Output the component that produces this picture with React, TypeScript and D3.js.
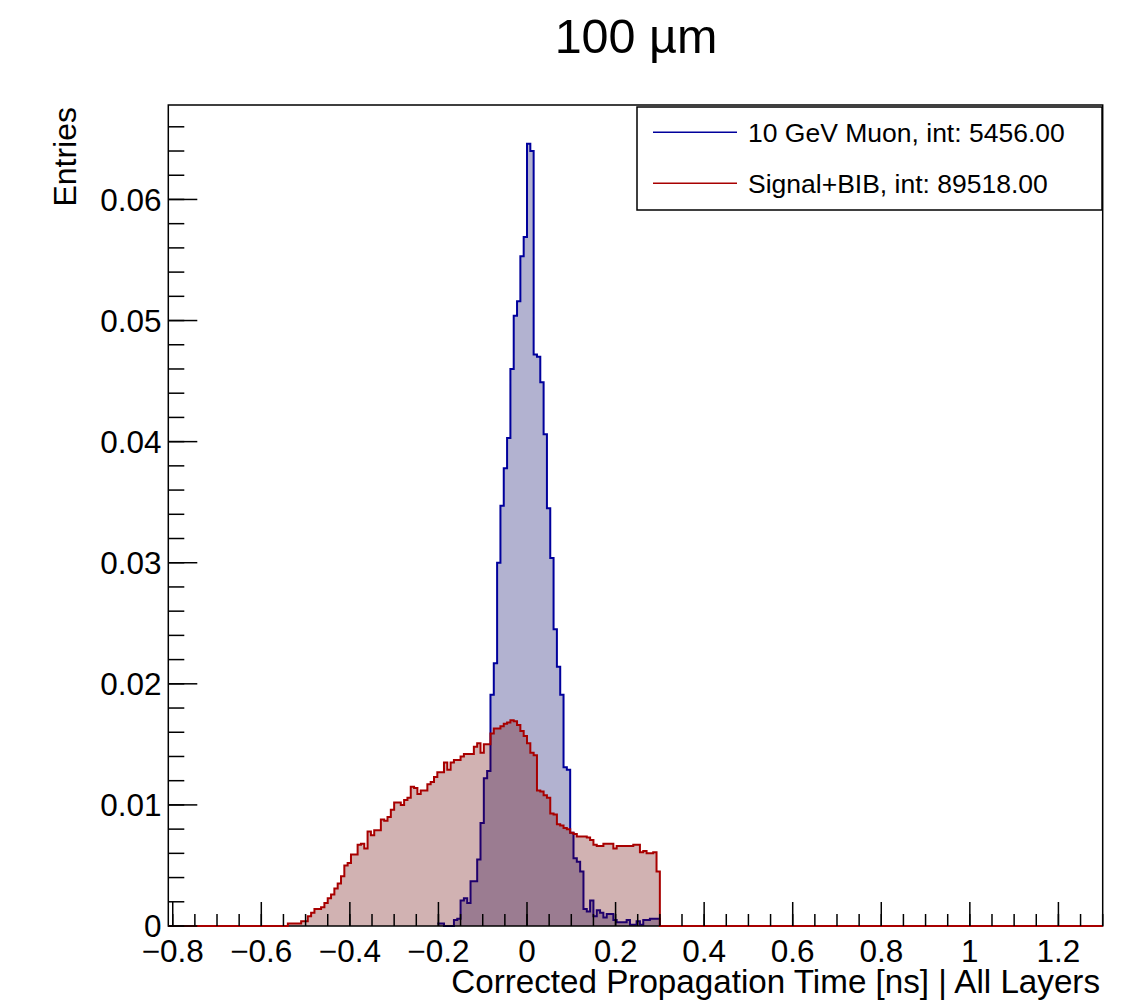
import React from "react";
import * as d3 from "d3";

const title = "100 µm";
const xTitle = "Corrected Propagation Time [ns] | All Layers";
const yTitle = "Entries";
const legendLabels = ["10 GeV Muon, int: 5456.00", "Signal+BIB, int: 89518.00"];

const binWidth = 0.0075;
const muonStart = -0.2025;
const muonValues = [
  0.0002, 0.0002, 0, 0, 0, 0.0005, 0.0006, 0.0021, 0.0023, 0.0019,
  0.0037, 0.0037, 0.0055, 0.0085, 0.0122, 0.0128, 0.0191, 0.0217, 0.03, 0.0347,
  0.0378, 0.0403, 0.046, 0.0504, 0.0516, 0.0553, 0.0569, 0.0646, 0.064, 0.0472,
  0.047, 0.0449, 0.0406, 0.0345, 0.0304, 0.0245, 0.0214, 0.0191, 0.0131, 0.0129,
  0.0077, 0.0056, 0.0053, 0.0045, 0.0014, 0.0012, 0.0021, 0.0008, 0.0013, 0.0011,
  0.0007, 0.001, 0.001, 0.0005, 0.0003, 0.0003, 0.0003, 0.0005, 0.0001, 0.0001,
  0.0004, 0.0001, 0.0005, 0.0005, 0.0006, 0.0006, 0.0006,
];
const signalStart = -0.54;
const signalValues = [
  0.0002, 0.0002, 0.0002, 0.0002, 0.0004, 0.0004, 0.0008, 0.0011, 0.0014, 0.0014,
  0.00155, 0.0019, 0.0023, 0.0026, 0.0031, 0.0035, 0.0041, 0.005, 0.0052, 0.0059,
  0.0059, 0.0067, 0.0068, 0.0064, 0.0078, 0.0075, 0.0079, 0.0079, 0.0088, 0.0087,
  0.009, 0.0096, 0.0102, 0.0102, 0.01, 0.0104, 0.0106, 0.0115, 0.0114, 0.0109,
  0.0112, 0.0112, 0.0117, 0.0119, 0.0123, 0.0127, 0.0127, 0.0135, 0.0129, 0.0135,
  0.0137, 0.0137, 0.014, 0.0142, 0.0142, 0.0142, 0.0148, 0.0151, 0.0143, 0.015,
  0.015, 0.0159, 0.0163, 0.0163, 0.0165, 0.0167, 0.0168, 0.017, 0.0169, 0.0166,
  0.0161, 0.0157, 0.0151, 0.0143, 0.0141, 0.0112, 0.0111, 0.0108, 0.0106, 0.0093,
  0.0092, 0.0084, 0.0083, 0.0081, 0.008, 0.0077, 0.0076, 0.0074, 0.0074, 0.0074,
  0.0073, 0.0071, 0.0067, 0.0066, 0.0066, 0.0068, 0.0068, 0.0068, 0.0064, 0.0066,
  0.0066, 0.0066, 0.0066, 0.0066, 0.0067, 0.0067, 0.0061, 0.0062, 0.006, 0.006,
  0.0061, 0.0045,
];

const xDomain = [-0.81, 1.3];
const yDomain = [0, 0.0678];
const xMajorTicks = [-0.8, -0.6, -0.4, -0.2, 0, 0.2, 0.4, 0.6, 0.8, 1, 1.2];
const yMajorTicks = [0, 0.01, 0.02, 0.03, 0.04, 0.05, 0.06];
const xMinorStep = 0.05;
const yMinorStep = 0.002;

const FONT = "'Liberation Sans', Arial, Helvetica, sans-serif";
const L = 168.3, R = 1102.7, T = 105, B = 926;

function fmt(v: number) {
  const s = String(Math.round(v * 1000) / 1000);
  return s.replace("-", "\u2212");
}

export default function App() {
  const x = d3.scaleLinear().domain(xDomain).range([L, R]);
  const y = d3.scaleLinear().domain(yDomain).range([B, T]);

  const pts = (start: number, vals: number[], full: boolean) => {
    const p: [number, number][] = [];
    if (full) p.push([xDomain[0], 0]);
    vals.forEach((v, i) => p.push([start + i * binWidth, v]));
    p.push([start + vals.length * binWidth, 0]);
    if (full) p.push([xDomain[1], 0]);
    else p.push([start + vals.length * binWidth, 0]);
    return p;
  };
  const line = d3.line<[number, number]>().x((d) => x(d[0])).y((d) => y(d[1])).curve(d3.curveStepAfter);
  const area = d3
    .area<[number, number]>()
    .x((d) => x(d[0]))
    .y0(y(0))
    .y1((d) => y(d[1]))
    .curve(d3.curveStepAfter);

  const muonPts = pts(muonStart, muonValues, false);
  const sigPts = pts(signalStart, signalValues, true);

  const xMinor: number[] = [];
  for (let v = -0.8; v <= 1.3 + 1e-9; v += xMinorStep) xMinor.push(Math.round(v * 1000) / 1000);
  const yMinor: number[] = [];
  for (let v = 0; v <= yDomain[1] + 1e-9; v += yMinorStep) yMinor.push(Math.round(v * 10000) / 10000);

  const blueLine = "#00009c";
  const redLine = "#a80000";

  return (
    <svg
      width={1123}
      height={1003}
      style={{ display: "block", background: "#fff", position: "absolute", left: 0, top: 0 }}
      fontFamily={FONT}
    >
      <rect x={0} y={0} width={1123} height={1003} fill="#fff" />
      <text x={636} y={52.7} fontSize={48.5} textAnchor="middle" fill="#000">
        {title}
      </text>

      {/* histograms */}
      <path d={area(muonPts) || ""} fill="rgb(0,0,100)" fillOpacity={0.3} />
      <path d={line(muonPts) || ""} fill="none" stroke={blueLine} strokeWidth={2} />
      <path d={area(sigPts) || ""} fill="rgb(102,0,0)" fillOpacity={0.3} />

      {/* frame */}
      <rect x={L} y={T} width={R - L} height={B - T} fill="none" stroke="#000" strokeWidth={1.5} />

      <path d={line(sigPts) || ""} fill="none" stroke={redLine} strokeWidth={2} />

      {/* y ticks */}
      {yMinor.map((v) => (
        <line key={"ym" + v} x1={L} x2={L + 16} y1={y(v)} y2={y(v)} stroke="#000" strokeWidth={1.5} />
      ))}
      {yMajorTicks.map((v) => (
        <g key={"yM" + v}>
          <line x1={L} x2={L + 29} y1={y(v)} y2={y(v)} stroke="#000" strokeWidth={1.5} />
          <text x={161.5} y={y(v)} dy="0.36em" fontSize={31.5} textAnchor="end" fill="#000">
            {fmt(v)}
          </text>
        </g>
      ))}

      {/* x ticks */}
      {xMinor.map((v) => (
        <line key={"xm" + v} x1={x(v)} x2={x(v)} y1={B} y2={B - 12} stroke="#000" strokeWidth={1.5} />
      ))}
      {xMajorTicks.map((v) => (
        <g key={"xM" + v}>
          <line x1={x(v)} x2={x(v)} y1={B} y2={B - 24} stroke="#000" strokeWidth={1.5} />
          <text x={x(v)} y={962} fontSize={31.5} textAnchor="middle" fill="#000">
            {fmt(v)}
          </text>
        </g>
      ))}

      {/* axis titles */}
      <text x={1100} y={993} fontSize={33.2} textAnchor="end" fill="#000">
        {xTitle}
      </text>
      <text transform="translate(76,107) rotate(-90)" fontSize={32} textAnchor="end" fill="#000">
        {yTitle}
      </text>

      {/* legend */}
      <rect x={637} y={107} width={1102 - 637} height={210 - 107} fill="#fff" stroke="#000" strokeWidth={1.5} />
      <line x1={653} x2={737} y1={132.3} y2={132.3} stroke={blueLine} strokeWidth={1.5} />
      <text x={748} y={141.7} fontSize={26.5} fill="#000">
        {legendLabels[0]}
      </text>
      <line x1={653} x2={737} y1={183.3} y2={183.3} stroke={redLine} strokeWidth={1.5} />
      <text x={748} y={192.5} fontSize={26.5} fill="#000">
        {legendLabels[1]}
      </text>
    </svg>
  );
}
